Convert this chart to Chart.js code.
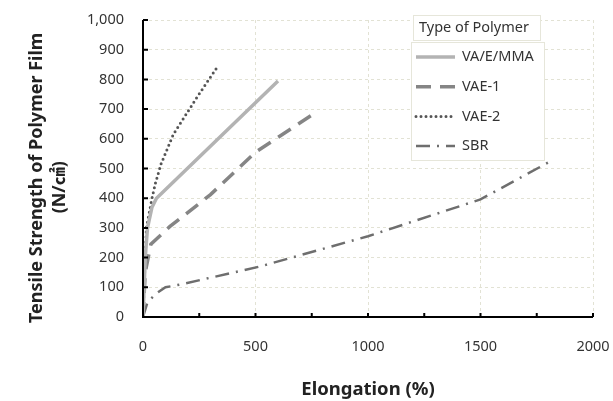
<!DOCTYPE html>
<html>
<head>
<meta charset="utf-8">
<script src="https://cdn.jsdelivr.net/npm/chart.js@4.4.1/dist/chart.umd.min.js"></script>
<style>
  html, body { margin: 0; padding: 0; background: #fff; }
  #wrap { width: 613px; height: 401px; }
</style>
</head>
<body>
<div id="wrap"><canvas id="chart"></canvas></div>
<script>
// values (elongation %, tensile strength N/cm2)
const seriesNames = ['VA/E/MMA', 'VAE-1', 'VAE-2', 'SBR'];

const vaemmaX = [0, 5, 10, 20, 40, 60, 600];
const vaemmaY = [0, 100, 200, 300, 370, 400, 795];

const vae1X = [0, 10, 35, 120, 300, 500, 765];
const vae1Y = [0, 150, 245, 305, 412, 555, 687];

const vae2X = [0, 5, 15, 40, 55, 80, 135, 240, 325];
const vae2Y = [0, 100, 300, 400, 450, 515, 615, 740, 836];

const sbrX = [0, 20, 60, 100, 170, 520, 1000, 1500, 1820];
const sbrY = [0, 50, 80, 100, 110, 170, 272, 396, 528];

const yTicks = [0, 100, 200, 300, 400, 500, 600, 700, 800, 900, 1000];
const xLabelTicks = [0, 500, 1000, 1500, 2000];

const FONT = "'Noto Sans', 'Noto Sans CJK KR', sans-serif";
const NB = '\u00a0';

function toPoints(xs, ys) {
  return xs.map((x, i) => ({ x: x, y: ys[i] }));
}

const lineStyles = [
  { color: '#b3b3b3', width: 3.5, dash: [], cap: 'butt' },
  { color: '#858585', width: 3.5, dash: [15, 9], cap: 'butt' },
  { color: '#555555', width: 3, dash: [0, 5], cap: 'round' },
  { color: '#6e6e6e', width: 2.5, dash: [14, 7, 2, 7], cap: 'butt' },
];

const allX = [vaemmaX, vae1X, vae2X, sbrX];
const allY = [vaemmaY, vae1Y, vae2Y, sbrY];

const datasets = seriesNames.map((name, i) => ({
  label: name,
  data: toPoints(allX[i], allY[i]),
  borderColor: lineStyles[i].color,
  borderWidth: lineStyles[i].width,
  borderDash: lineStyles[i].dash,
  borderCapStyle: lineStyles[i].cap,
  pointRadius: 0,
  fill: false,
  tension: 0,
}));

// legend drawn inside the plot, top right
const innerLegend = {
  id: 'innerLegend',
  afterDraw(chart) {
    const ctx = chart.ctx;
    const area = chart.chartArea;
    const left = area.right - 182;
    ctx.save();
    // title box
    ctx.fillStyle = '#fff';
    ctx.strokeStyle = '#e6e6da';
    ctx.lineWidth = 1;
    ctx.fillRect(left + 2, area.top - 5, 127, 25);
    ctx.strokeRect(left + 2.5, area.top - 4.5, 127, 25);
    ctx.fillStyle = '#333';
    ctx.font = '14.5px ' + FONT;
    ctx.textBaseline = 'middle';
    ctx.textAlign = 'left';
    ctx.fillText('Type of Polymer', left + 8, area.top + 8);
    // items box
    ctx.fillStyle = '#fff';
    ctx.fillRect(left, area.top + 22, 133, 118);
    ctx.strokeRect(left + 0.5, area.top + 22.5, 133, 118);
    chart.data.datasets.forEach((ds, i) => {
      const y = area.top + 37 + i * 29.7;
      ctx.save();
      ctx.strokeStyle = ds.borderColor;
      ctx.lineWidth = ds.borderWidth;
      ctx.setLineDash(ds.borderDash);
      ctx.lineCap = ds.borderCapStyle;
      ctx.beginPath();
      ctx.moveTo(left + 5, y);
      ctx.lineTo(left + 44, y);
      ctx.stroke();
      ctx.restore();
      ctx.fillStyle = '#333';
      ctx.fillText(ds.label, left + 51, y);
    });
    ctx.restore();
  }
};

// short tick marks pointing into the plot
const innerTicks = {
  id: 'innerTicks',
  afterDatasetsDraw(chart) {
    const ctx = chart.ctx;
    const xs = chart.scales.x;
    const ys = chart.scales.y;
    const area = chart.chartArea;
    ctx.save();
    ctx.strokeStyle = '#000';
    ctx.lineWidth = 2;
    ctx.beginPath();
    ys.ticks.forEach(t => {
      const py = ys.getPixelForValue(t.value);
      ctx.moveTo(area.left, py);
      ctx.lineTo(area.left + 5, py);
    });
    xs.ticks.forEach(t => {
      const px = xs.getPixelForValue(t.value);
      ctx.moveTo(px, area.bottom);
      ctx.lineTo(px, area.bottom - 4);
    });
    // axis lines
    ctx.moveTo(area.left, area.top);
    ctx.lineTo(area.left, area.bottom);
    ctx.lineTo(area.right, area.bottom);
    ctx.stroke();
    ctx.restore();
  }
};

new Chart(document.getElementById('chart'), {
  type: 'line',
  data: { datasets: datasets },
  plugins: [innerTicks, innerLegend],
  options: {
    responsive: true,
    maintainAspectRatio: false,
    animation: false,
    layout: { padding: { top: 20, right: 20, left: 0, bottom: 0 } },
    plugins: {
      legend: { display: false },
      tooltip: { enabled: false },
    },
    scales: {
      x: {
        type: 'linear',
        min: 0,
        max: 2000,
        grid: {
          drawTicks: false,
          color: (c) => (xLabelTicks.includes(c.tick.value) && c.tick.value !== 0 ? '#e2e2d4' : 'rgba(0,0,0,0)'),
          lineWidth: 1,
        },
        border: { display: false, dash: [3, 3] },
        ticks: {
          stepSize: 250,
          padding: 21,
          autoSkip: false,
          maxRotation: 0,
          color: '#333',
          font: { family: FONT, size: 14.5 },
          callback: (v) => (xLabelTicks.includes(v) ? String(v) : ''),
        },
        title: {
          display: true,
          text: 'Elongation (%)',
          color: '#222',
          font: { family: FONT, size: 18.5, weight: 'bold' },
          padding: { top: 8, bottom: 0 },
        },
        afterFit: (scale) => {
          scale.height = 84;
          scale.paddingRight = 0;
        },
      },
      y: {
        min: 0,
        max: 1000,
        border: { display: false, dash: [3, 3] },
        grid: {
          drawTicks: false,
          color: (c) => (c.tick.value === 0 ? 'rgba(0,0,0,0)' : '#e2e2d4'),
          lineWidth: 1,
        },
        afterBuildTicks: (scale) => { scale.ticks = yTicks.map(v => ({ value: v })); },
        ticks: {
          padding: 19,
          color: '#333',
          font: { family: FONT, size: 14.5 },
          callback: (v) => v.toLocaleString('en-US'),
        },
        title: {
          display: true,
          text: ['Tensile Strength of Polymer Film' + NB.repeat(4), '(N/㎠)' + NB.repeat(8)],
          color: '#222',
          font: { family: FONT, size: 18, weight: 'bold', lineHeight: 1.25 },
          padding: { top: 26, bottom: 8 },
        },
        afterFit: (scale) => {
          scale.width = 143;
          scale.paddingTop = 0;
          scale.paddingBottom = 0;
        },
      },
    },
  },
});
</script>
</body>
</html>
